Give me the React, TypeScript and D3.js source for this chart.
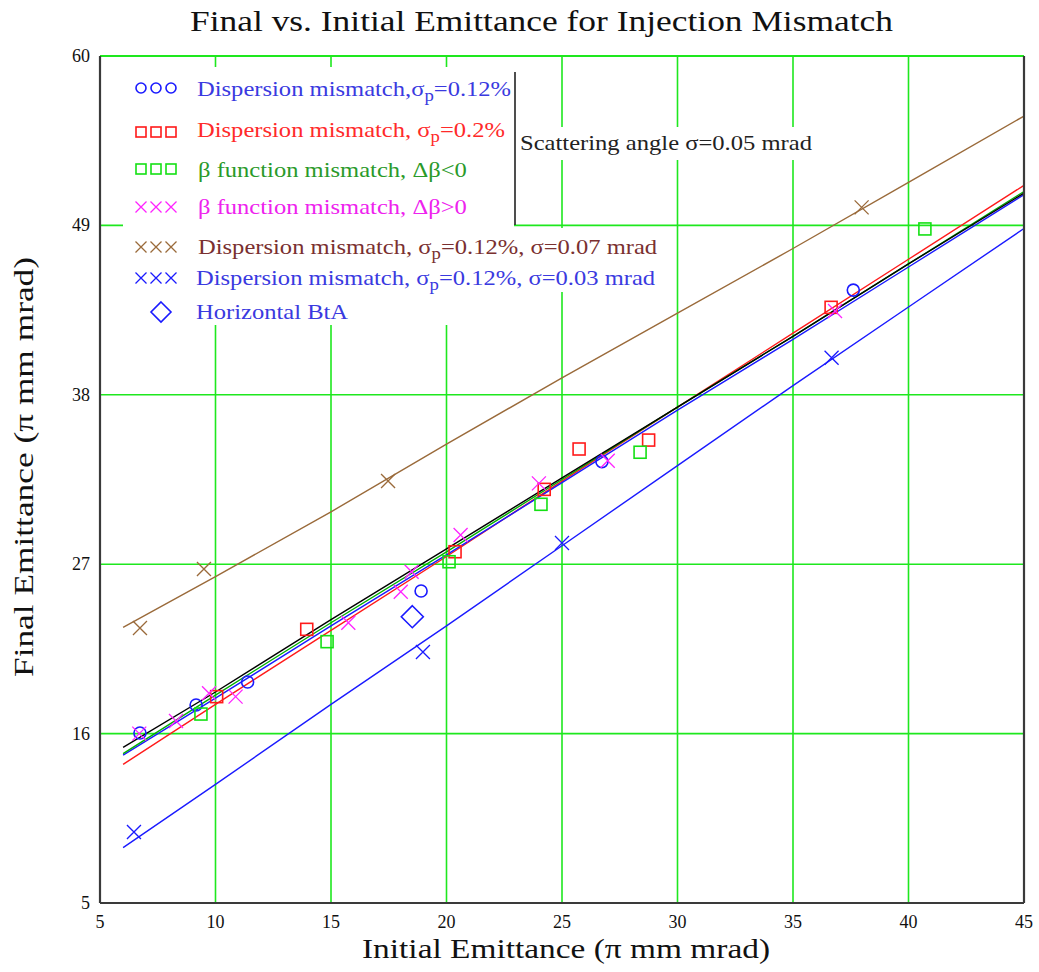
import React from 'react';
import * as d3 from 'd3';

// ---- axis ticks ----
const xTicks = [5, 10, 15, 20, 25, 30, 35, 40, 45];
const yTicks = [5, 16, 27, 38, 49, 60];

// ---- fitted curves (x, y) ----
const fitX = [6, 10, 15, 20, 25, 30, 35, 40, 45];
const fitBlack = [15.1, 18.7, 23.4, 28.0, 32.6, 37.2, 41.8, 46.5, 51.1];
const fitGreen = [14.7, 18.5, 23.2, 27.8, 32.5, 37.2, 41.8, 46.5, 51.2];
const fitBlue = [14.6, 18.3, 23.0, 27.6, 32.3, 37.0, 41.6, 46.3, 51.0];
const fitRed = [14.0, 17.9, 22.7, 27.5, 32.4, 37.2, 42.0, 46.8, 51.6];
const fitBrown = [22.9, 26.2, 30.4, 34.8, 39.1, 43.3, 47.5, 51.8, 56.1];
const fitBlueLow = [8.6, 12.7, 17.9, 23.0, 28.2, 33.4, 38.6, 43.7, 48.8];

// ---- data points ----
const dispCircles: [number, number][] = [
  [6.73, 16.04], [9.16, 17.86], [11.39, 19.35], [18.9, 25.26], [26.73, 33.66], [37.61, 44.8],
];
const dispSquaresRed: [number, number][] = [
  [10.05, 18.4], [13.95, 22.77], [20.37, 27.81], [24.23, 31.86], [25.74, 34.48], [28.75, 35.06], [36.65, 43.68],
];
const betaSquaresGreen: [number, number][] = [
  [9.37, 17.27], [14.83, 21.97], [20.11, 27.16], [24.09, 30.89], [28.38, 34.27], [40.71, 48.77],
];
const betaCrossMagenta: [number, number][] = [
  [6.7, 16.0], [8.29, 16.82], [9.72, 18.62], [10.87, 18.4], [15.75, 23.2], [18.02, 25.21],
  [18.49, 26.51], [20.61, 28.9], [24.0, 32.25], [26.98, 33.72], [36.82, 43.44],
];
const dispCrossBrown: [number, number][] = [
  [6.73, 22.86], [9.5, 26.69], [17.47, 32.4], [37.97, 50.17],
];
const dispCrossBlue: [number, number][] = [
  [6.47, 9.61], [18.98, 21.3], [25.0, 28.38], [36.67, 40.41],
];
const btaDiamond: [number, number][] = [[18.52, 23.59]];

const W = 1039;
const H = 972;
const L = 100, R = 1024, T = 56, B = 903;

const COL = {
  grid: '#1ee81e',
  frame: '#3a3a3a',
  blue: '#1a1aff',
  red: '#ff1a1a',
  green: '#14e014',
  magenta: '#ff22ff',
  brown: '#9a6a3a',
  lineGreen: '#00b000',
  textBlue: '#3a3ae0',
  textRed: '#ff2a2a',
  textGreen: '#2a9a2a',
  textMagenta: '#ee22ee',
  textBrown: '#7a3030',
};

const FONT = '"Liberation Serif", "Times New Roman", serif';

function Circle({ cx, cy, c, r = 6 }: any) {
  return <circle cx={cx} cy={cy} r={r} fill="none" stroke={c} strokeWidth={1.6} />;
}
function Square({ cx, cy, c, s = 12 }: any) {
  return <rect x={cx - s / 2} y={cy - s / 2} width={s} height={s} fill="none" stroke={c} strokeWidth={1.6} />;
}
function Cross({ cx, cy, c, s = 7 }: any) {
  return (
    <path d={`M${cx - s},${cy - s}L${cx + s},${cy + s}M${cx - s},${cy + s}L${cx + s},${cy - s}`} stroke={c} strokeWidth={1.3} fill="none" />
  );
}
function Diamond({ cx, cy, c, s = 11 }: any) {
  return <path d={`M${cx},${cy - s}L${cx + s},${cy}L${cx},${cy + s}L${cx - s},${cy}Z`} fill="none" stroke={c} strokeWidth={1.6} />;
}

export default function App() {
  const x = d3.scaleLinear().domain([5, 45]).range([L, R]);
  const y = d3.scaleLinear().domain([5, 60]).range([B, T]);
  const line = d3.line<[number, number]>().x(d => x(d[0])).y(d => y(d[1]));
  const mk = (ys: number[]) => fitX.map((v, i) => [v, ys[i]] as [number, number]);

  const fits: [number[], string][] = [
    [fitBrown, COL.brown],
    [fitBlueLow, COL.blue],
    [fitRed, COL.red],
    [fitBlue, COL.blue],
    [fitGreen, COL.lineGreen],
    [fitBlack, '#000000'],
  ];

  const legendX = [141, 156, 171];
  const sub = (txt: string) => (
    <tspan baselineShift="-30%" fontSize={16}>{txt}</tspan>
  );
  const SX = 1.17;
  const lt = (lx: number, ly: number) => `translate(${lx},${ly}) scale(${SX},1)`;

  return (
    <svg width={W} height={H} style={{ position: 'absolute', left: 0, top: 0, background: '#fff' }} fontFamily={FONT}>
      <rect width={W} height={H} fill="#fff" />
      {/* title */}
      <text x={190} y={31} fontSize={30} fill="#111" textLength={703} lengthAdjust="spacingAndGlyphs">Final vs. Initial Emittance for Injection Mismatch</text>

      {/* grid */}
      {xTicks.slice(1, -1).map(t => (
        <line key={'gx' + t} x1={x(t)} x2={x(t)} y1={T} y2={B} stroke={COL.grid} strokeWidth={1.6} />
      ))}
      {yTicks.slice(1, -1).map(t => (
        <line key={'gy' + t} x1={L} x2={R} y1={y(t)} y2={y(t)} stroke={COL.grid} strokeWidth={1.6} />
      ))}

      {/* legend backgrounds */}
      <rect x={123} y={67} width={391} height={258} fill="#fff" />
      <rect x={123} y={228} width={545} height={64} fill="#fff" />
      <rect x={519} y={127} width={296} height={33} fill="#fff" />

      {/* fits */}
      {fits.map(([ys, c], i) => (
        <path key={'f' + i} d={line(mk(ys)) || ''} fill="none" stroke={c} strokeWidth={1.4} />
      ))}

      {/* points */}
      {dispCircles.map((d, i) => <Circle key={'c' + i} cx={x(d[0])} cy={y(d[1])} c={COL.blue} />)}
      {dispSquaresRed.map((d, i) => <Square key={'r' + i} cx={x(d[0])} cy={y(d[1])} c={COL.red} />)}
      {betaSquaresGreen.map((d, i) => <Square key={'g' + i} cx={x(d[0])} cy={y(d[1])} c={COL.green} />)}
      {betaCrossMagenta.map((d, i) => <Cross key={'m' + i} cx={x(d[0])} cy={y(d[1])} c={COL.magenta} />)}
      {dispCrossBrown.map((d, i) => <Cross key={'b' + i} cx={x(d[0])} cy={y(d[1])} c={COL.brown} />)}
      {dispCrossBlue.map((d, i) => <Cross key={'x' + i} cx={x(d[0])} cy={y(d[1])} c={COL.blue} />)}
      {btaDiamond.map((d, i) => <Diamond key={'d' + i} cx={x(d[0])} cy={y(d[1])} c={COL.blue} />)}

      {/* frame */}
      <line x1={L} x2={R} y1={T} y2={T} stroke={COL.grid} strokeWidth={2.2} />
      <line x1={L} x2={L} y1={T} y2={B} stroke={COL.frame} strokeWidth={2.2} />
      <line x1={R} x2={R} y1={T} y2={B} stroke={COL.frame} strokeWidth={2.2} />
      <line x1={L} x2={R} y1={B} y2={B} stroke={COL.frame} strokeWidth={2.2} />

      {/* tick labels */}
      {xTicks.map(t => (
        <text key={'xt' + t} x={x(t)} y={928} textAnchor="middle" fontSize={18} fill="#111">{t}</text>
      ))}
      {yTicks.map(t => (
        <text key={'yt' + t} x={90} y={y(t) + 6} textAnchor="end" fontSize={18} fill="#111">{t}</text>
      ))}

      {/* axis titles */}
      <text x={362} y={958} fontSize={28} fill="#111" textLength={408} lengthAdjust="spacingAndGlyphs">Initial Emittance (π mm mrad)</text>
      <text transform={`translate(33,677) rotate(-90)`} fontSize={28} fill="#111" textLength={420} lengthAdjust="spacingAndGlyphs">Final Emittance (π mm mrad)</text>

      {/* legend markers */}
      {legendX.map(lx => <Circle key={'lc' + lx} cx={lx} cy={88} c={COL.blue} r={5} />)}
      {legendX.map(lx => <Square key={'lr' + lx} cx={lx} cy={132} c={COL.red} s={10} />)}
      {legendX.map(lx => <Square key={'lg' + lx} cx={lx} cy={169} c={COL.green} s={10} />)}
      {legendX.map(lx => <Cross key={'lm' + lx} cx={lx} cy={207} c={COL.magenta} s={5.5} />)}
      {legendX.map(lx => <Cross key={'lb' + lx} cx={lx} cy={247} c={COL.brown} s={5.5} />)}
      {legendX.map(lx => <Cross key={'lx' + lx} cx={lx} cy={278} c={COL.blue} s={5.5} />)}
      <Diamond cx={161} cy={312} c={COL.blue} s={10} />

      {/* legend text */}
      <g fontSize={21}>
        <text transform={lt(197, 96)} fill={COL.textBlue}>Dispersion mismatch,σ{sub('p')}=0.12%</text>
        <text transform={lt(197, 137)} fill={COL.textRed}>Dispersion mismatch, σ{sub('p')}=0.2%</text>
        <text transform={lt(198, 177)} fill={COL.textGreen}>β function mismatch, Δβ&lt;0</text>
        <text transform={lt(198, 214)} fill={COL.textMagenta}>β function mismatch, Δβ&gt;0</text>
        <text transform={lt(198, 254)} fill={COL.textBrown}>Dispersion mismatch, σ{sub('p')}=0.12%, σ=0.07 mrad</text>
        <text transform={lt(196, 285)} fill={COL.textBlue}>Dispersion mismatch, σ{sub('p')}=0.12%, σ=0.03 mrad</text>
        <text transform={lt(196, 319)} fill={COL.textBlue}>Horizontal BtA</text>
      </g>

      {/* bracket + scattering note */}
      <line x1={515} x2={515} y1={72} y2={225} stroke="#222" strokeWidth={1.6} />
      <text x={520} y={150} fontSize={21} fill="#222" textLength={292} lengthAdjust="spacingAndGlyphs">Scattering angle σ=0.05 mrad</text>
    </svg>
  );
}
